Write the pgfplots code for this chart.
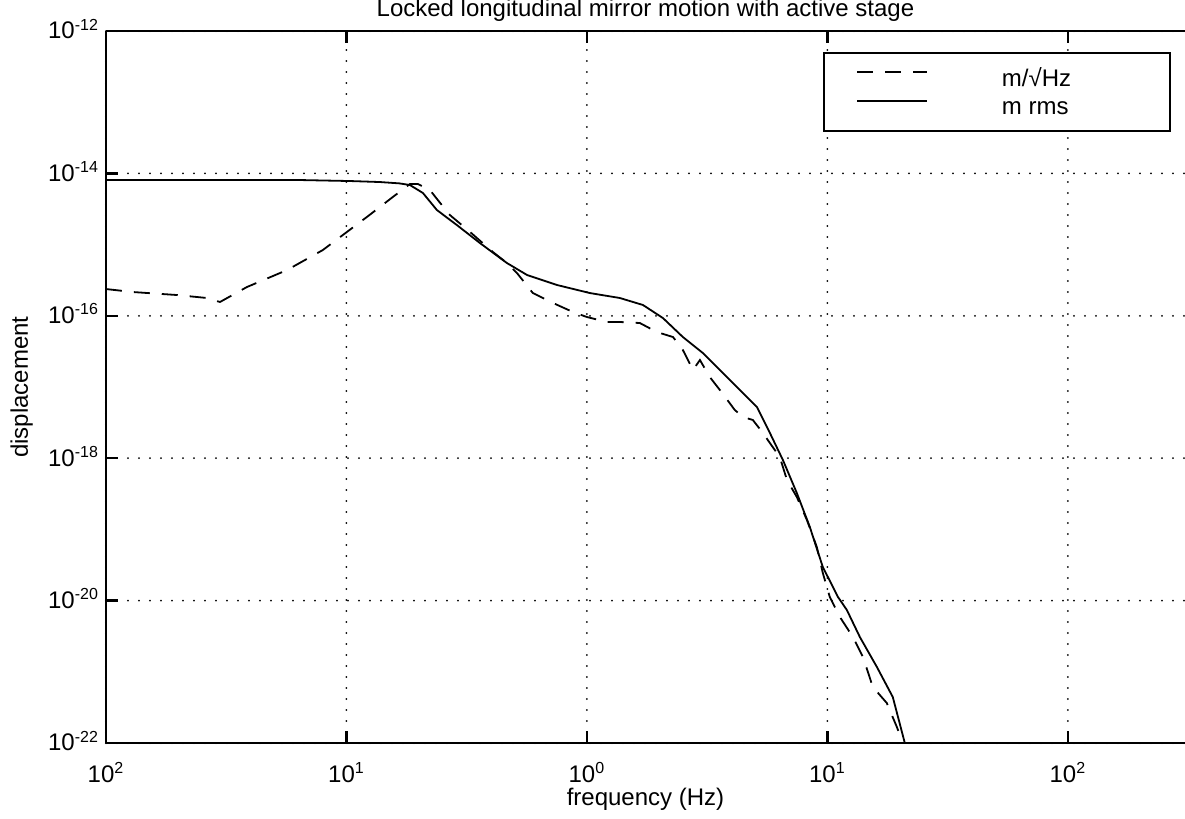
\documentclass[border=0pt]{standalone}
\usepackage{fontspec}
\setmainfont{Liberation Sans}
\usepackage{pgfplots}
\usepackage{pgfplotstable}
\pgfplotsset{compat=1.18}

\pgfplotstableread{
lx ly
-2.000 -15.624
-1.888 -15.666
-1.705 -15.708
-1.580 -15.750
-1.526 -15.806
-1.414 -15.596
-1.247 -15.357
-1.098 -15.076
-0.998 -14.823
-0.915 -14.612
-0.807 -14.331
-0.736 -14.149
-0.703 -14.149
-0.653 -14.233
-0.620 -14.374
-0.570 -14.584
-0.486 -14.823
-0.391 -15.104
-0.333 -15.258
-0.291 -15.399
-0.225 -15.680
-0.141 -15.820
-0.058 -15.947
0.000 -16.017
0.083 -16.087
0.137 -16.087
0.220 -16.101
0.291 -16.228
0.358 -16.298
0.399 -16.480
0.441 -16.761
0.470 -16.621
0.511 -16.860
0.553 -17.042
0.615 -17.323
0.649 -17.421
0.690 -17.463
0.732 -17.646
0.761 -17.787
0.802 -17.983
0.832 -18.306
0.873 -18.545
0.915 -18.868
0.956 -19.247
0.981 -19.612
1.010 -19.949
1.052 -20.230
1.106 -20.511
1.148 -20.792
1.189 -21.213
1.247 -21.438
1.289 -21.775
1.314 -22.000
}\asdtable

\pgfplotstableread{
lx ly
-2.000 -14.093
-1.609 -14.093
-1.193 -14.093
-0.985 -14.107
-0.861 -14.121
-0.780 -14.140
-0.736 -14.163
-0.682 -14.275
-0.624 -14.514
-0.541 -14.725
-0.445 -14.978
-0.333 -15.258
-0.249 -15.427
-0.125 -15.567
0.012 -15.680
0.137 -15.750
0.233 -15.848
0.316 -16.031
0.399 -16.298
0.482 -16.522
0.595 -16.902
0.707 -17.281
0.761 -17.646
0.815 -18.025
0.873 -18.489
0.927 -18.966
0.981 -19.528
1.044 -19.949
1.081 -20.132
1.135 -20.511
1.206 -20.933
1.272 -21.354
1.322 -22.000
}\rmstable

\begin{document}
\begin{tikzpicture}
\begin{loglogaxis}[
  scale only axis, width=539.5pt, height=356pt,
  xmin=1e-2, xmax=307, ymin=1e-22, ymax=1e-12,
  axis x line*=box, axis y line*=left,
  axis line style={line width=1.2pt, black},
  tick align=inside, major tick length=6pt,
  tick style={line width=1.2pt, black},
  xminorticks=false, yminorticks=false,
  xtick={1e-2,1e-1,1,10,100},
  xticklabels={10\textsuperscript{2},10\textsuperscript{1},10\textsuperscript{0},10\textsuperscript{1},10\textsuperscript{2}},
  ytick={1e-22,1e-20,1e-18,1e-16,1e-14,1e-12},
  yticklabels={10\textsuperscript{-22},10\textsuperscript{-20},10\textsuperscript{-18},10\textsuperscript{-16},10\textsuperscript{-14},10\textsuperscript{-12}},
  grid=major,
  major grid style={black, line width=1pt, line cap=round, dash pattern=on 0pt off 5.5pt},
  tick label style={font=\fontsize{12}{14}\selectfont},
  xticklabel style={anchor=base, yshift=-19.5pt},
  yticklabel style={yshift=1pt},
  label style={font=\fontsize{12}{14}\selectfont},
  xlabel={frequency (Hz)},
  xlabel style={at={(0.5,0)}, anchor=base, yshift=-31pt},
  ylabel={displacement},
  ylabel style={at={(-0.0723,0.5)}, anchor=base},
  title={Locked longitudinal mirror motion with active stage},
  title style={font=\fontsize{12}{14}\selectfont, at={(0.5,1)}, anchor=base, yshift=1.5pt},
  legend style={at={(0.6645,0.9705)}, anchor=north west, draw=black, line width=1.2pt, fill=white,
    inner xsep=16pt, inner ysep=5pt, font=\fontsize{12}{14}\selectfont,
    cells={anchor=west, inner sep=0pt},
    /tikz/every odd column/.append style={column sep=35pt}},
  legend image code/.code={\draw[#1] (0pt,0.3em) -- (35pt,0.3em);},
]
\addplot[black, line width=0.9pt, dash pattern=on 8pt off 6pt]
  table[x expr={10^(\thisrow{lx})}, y expr={10^(\thisrow{ly})}] {\asdtable};
\addlegendentry{\rule[-1pt]{0pt}{9.5pt}\makebox[66pt][l]{m/√Hz}}
\addplot[black, line width=0.9pt]
  table[x expr={10^(\thisrow{lx})}, y expr={10^(\thisrow{ly})}] {\rmstable};
\addlegendentry{\rule[-16pt]{0pt}{24.5pt}\makebox[66pt][l]{m rms}}
\end{loglogaxis}
\pgfresetboundingbox
\path ([xshift=-53pt,yshift=-38pt]current axis.south west) rectangle ([yshift=15.5pt]current axis.north east);
\end{tikzpicture}
\end{document}
